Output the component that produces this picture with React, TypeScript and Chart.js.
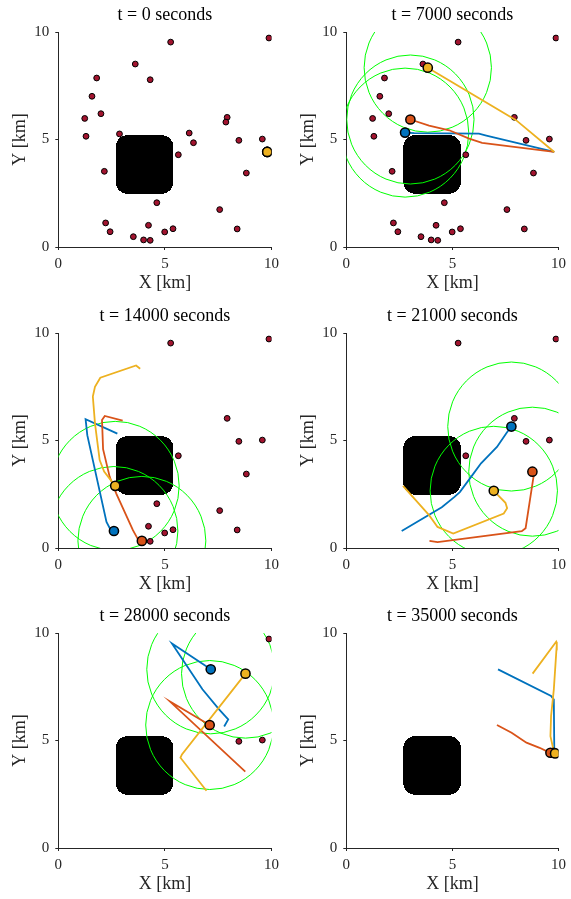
import React, { useEffect, useRef } from 'react';
import { Chart, registerables } from 'chart.js';
Chart.register(...registerables);

// ---------- data ----------
const PANEL_TIMES = [0, 7000, 14000, 21000, 28000, 35000];

const TARGET_X = [5.27, 9.88, 3.61, 4.31, 1.80, 1.58, 1.24, 2.00, 1.30, 2.87, 2.16, 6.14, 6.34, 5.63, 7.92, 7.86, 8.47, 9.57, 8.82, 4.62, 7.57, 8.39, 2.22, 2.43, 3.52, 4.23, 4.00, 4.31, 4.99, 5.38];
const TARGET_Y = [9.53, 9.72, 8.51, 7.78, 7.86, 7.01, 5.98, 6.20, 5.15, 5.26, 3.52, 5.30, 4.85, 4.29, 6.03, 5.81, 4.96, 5.02, 3.44, 2.06, 1.74, 0.84, 1.12, 0.71, 0.48, 1.01, 0.33, 0.31, 0.70, 0.85];

// indices of targets still unfound in each panel
const TARGETS_LEFT: number[][] = [
  [0, 1, 2, 3, 4, 5, 6, 7, 8, 9, 10, 11, 12, 13, 14, 15, 16, 17, 18, 19, 20, 21, 22, 23, 24, 25, 26, 27, 28, 29],
  [0, 1, 2, 4, 5, 6, 7, 8, 10, 13, 14, 16, 17, 18, 19, 20, 21, 22, 23, 24, 25, 26, 27, 28, 29],
  [0, 1, 13, 14, 16, 17, 18, 19, 20, 21, 25, 27, 28, 29],
  [0, 1, 13, 14, 16, 17],
  [1, 16, 17],
  [],
];

const BLUE_AGENT = [[9.8, 4.42], [2.77, 5.32], [2.61, 0.79], [7.78, 5.65], [7.15, 8.31], [9.78, 4.43]];
const ORANGE_AGENT = [[9.8, 4.42], [3.02, 5.93], [3.92, 0.33], [8.77, 3.55], [7.1, 5.72], [9.62, 4.43]];
const YELLOW_AGENT = [[9.8, 4.42], [3.84, 8.34], [2.67, 2.89], [6.95, 2.66], [8.78, 8.11], [9.84, 4.4]];

const BLUE_TRAIL: number[][][] = [
  [],
  [[9.8, 4.42], [6.6, 5.18], [6.25, 5.27], [3.2, 5.3], [2.77, 5.32]],
  [[2.77, 5.32], [1.28, 5.99], [1.36, 5.25], [2.26, 1.21], [2.45, 0.85], [2.61, 0.79]],
  [[2.61, 0.79], [4.5, 1.9], [5.1, 2.38], [5.35, 2.6], [5.95, 3.4], [6.35, 3.94], [7.1, 4.7], [7.55, 5.35], [7.78, 5.65]],
  [[7.78, 5.65], [7.97, 5.98], [7.54, 6.45], [6.76, 7.38], [5.33, 9.51], [7.15, 8.31]],
  [[7.15, 8.31], [9.65, 7.07], [9.78, 6.9], [9.8, 4.7], [9.78, 4.43]],
];
const ORANGE_TRAIL: number[][][] = [
  [],
  [[9.8, 4.42], [8.0, 4.65], [6.4, 4.84], [5.79, 5.04], [4.85, 5.43], [3.9, 5.65], [3.02, 5.93]],
  [[3.02, 5.93], [2.18, 6.14], [2.05, 5.95], [2.1, 4.6], [2.41, 3.31], [2.72, 2.53], [3.5, 0.83], [3.75, 0.38], [3.92, 0.33]],
  [[3.92, 0.33], [4.3, 0.27], [8.27, 0.78], [8.45, 0.92], [8.82, 3.3], [8.77, 3.55]],
  [[8.77, 3.55], [5.24, 6.81], [7.1, 5.72]],
  [[7.1, 5.72], [7.79, 5.36], [8.49, 4.9], [9.11, 4.66], [9.53, 4.46], [9.62, 4.43]],
];
const YELLOW_TRAIL: number[][][] = [
  [],
  [[9.8, 4.42], [8.0, 5.9], [3.84, 8.34]],
  [[3.84, 8.34], [3.65, 8.49], [1.97, 7.92], [1.72, 7.5], [1.62, 7.04], [1.72, 5.8], [1.94, 4.09], [2.15, 3.55], [2.67, 2.89]],
  [[2.67, 2.89], [3.9, 1.53], [4.3, 0.98], [5.04, 0.67], [7.42, 1.6], [7.58, 1.85], [7.5, 2.1], [7.1, 2.5], [6.95, 2.66]],
  [[6.95, 2.66], [5.73, 4.2], [5.8, 4.35], [8.78, 8.11]],
  [[8.78, 8.11], [9.89, 9.59], [9.92, 9.48], [9.78, 7.38], [9.65, 6.14], [9.62, 5.2], [9.73, 4.71], [9.84, 4.4]],
];

const SHOW_SENSING = [false, true, true, true, true, false];
const SENSE_RADIUS_KM = 3;

const OBSTACLE_X = [2.69, 5.4];
const OBSTACLE_Y = [2.48, 5.2];
const OBSTACLE_CORNER = 0.55;

const AXIS_TICKS = [0, 5, 10];

// ---------- styles ----------
const BLUE = '#0072BD';
const ORANGE = '#D95319';
const YELLOW = '#EDB120';
const TARGET = '#A2142F';
const SENSE = '#00FF00';
const AXIS = '#262626';
const FONT = "'Liberation Serif', 'Times New Roman', serif";

const Y_AXIS_W = 58.3;
const PLOT_W = 214.4;
const PLOT_BOTTOM = 247;
const CANVAS_H = 298;
const COL_LEFT = [0, 288];
const COL_W = [284, 283];
const ROW_TOP = [0, 301, 601];

const toPts = (arr: number[][]) => arr.map(([x, y]) => ({ x, y }));

function Panel({ idx }: { idx: number }) {
  const ref = useRef<HTMLCanvasElement | null>(null);
  const col = idx % 2;
  const row = Math.floor(idx / 2);
  const W = COL_W[col];
  const H = CANVAS_H;

  useEffect(() => {
    if (!ref.current) return;
    const envPlugin = {
      id: 'env' + idx,
      beforeDatasetsDraw(chart: any) {
        const { ctx, chartArea } = chart;
        const xs = chart.scales.x;
        const ys = chart.scales.y;
        ctx.save();
        ctx.beginPath();
        ctx.rect(chartArea.left, chartArea.top, chartArea.right - chartArea.left, chartArea.bottom - chartArea.top);
        ctx.clip();
        // obstacle, rasterised row by row
        ctx.fillStyle = '#000';
        const pTop = Math.round(ys.getPixelForValue(OBSTACLE_Y[1]));
        const pBot = Math.round(ys.getPixelForValue(OBSTACLE_Y[0]));
        const r = OBSTACLE_CORNER;
        for (let py = pTop; py < pBot; py++) {
          const yv = ys.getValueForPixel(py + 0.5);
          const d = Math.min(OBSTACLE_Y[1] - yv, yv - OBSTACLE_Y[0]);
          let inset = 0;
          if (d < r) inset = r - Math.sqrt(Math.max(0, r * r - (r - d) * (r - d)));
          const xl = Math.round(xs.getPixelForValue(OBSTACLE_X[0] + inset));
          const xr = Math.round(xs.getPixelForValue(OBSTACLE_X[1] - inset));
          ctx.fillRect(xl, py, xr - xl, 1);
        }
        // sensing circles
        if (SHOW_SENSING[idx]) {
          ctx.strokeStyle = SENSE;
          ctx.lineWidth = 1;
          [BLUE_AGENT, ORANGE_AGENT, YELLOW_AGENT].forEach((a) => {
            const [ax, ay] = a[idx];
            const cx = xs.getPixelForValue(ax);
            const cy = ys.getPixelForValue(ay);
            const rx = Math.abs(xs.getPixelForValue(ax + SENSE_RADIUS_KM) - cx);
            const ry = Math.abs(ys.getPixelForValue(ay + SENSE_RADIUS_KM) - cy);
            ctx.beginPath();
            ctx.ellipse(cx, cy, rx, ry, 0, 0, Math.PI * 2);
            ctx.stroke();
          });
        }
        ctx.restore();
      },
    };

    const trail = (data: number[][], color: string, order: number) => ({
      data: toPts(data),
      showLine: true,
      borderColor: color,
      borderWidth: 1.8,
      pointRadius: 0,
      tension: 0,
      fill: false,
      order,
    });
    const agent = (pos: number[], color: string, order: number) => ({
      data: [{ x: pos[0], y: pos[1] }],
      pointRadius: 4.6,
      pointBorderWidth: 1.5,
      pointBackgroundColor: color,
      pointBorderColor: '#000',
      backgroundColor: color,
      borderColor: '#000',
      showLine: false,
      order,
    });

    const datasets: any[] = [
      agent(YELLOW_AGENT[idx], YELLOW, 1),
      agent(ORANGE_AGENT[idx], ORANGE, 2),
      agent(BLUE_AGENT[idx], BLUE, 3),
      trail(YELLOW_TRAIL[idx], YELLOW, 11),
      trail(ORANGE_TRAIL[idx], ORANGE, 12),
      trail(BLUE_TRAIL[idx], BLUE, 13),
      {
        data: TARGETS_LEFT[idx].map((i) => ({ x: TARGET_X[i], y: TARGET_Y[i] })),
        pointRadius: 2.9,
        pointBorderWidth: 1,
        pointBackgroundColor: TARGET,
        pointBorderColor: '#000',
        showLine: false,
        order: 20,
      },
    ];

    const axisCommon = (title: string) => ({
      type: 'linear' as const,
      min: 0,
      max: 10,
      afterBuildTicks(scale: any) {
        scale.ticks = AXIS_TICKS.map((v) => ({ value: v }));
      },
      ticks: {
        color: AXIS,
        font: { family: FONT, size: 15 },
        maxRotation: 0,
        autoSkip: false,
        callback: (v: any) => String(v),
      },
      grid: { display: true, drawOnChartArea: false, drawTicks: true, tickLength: 3, color: AXIS },
      border: { display: true, color: AXIS, width: 1 },
      title: { display: true, text: title, color: AXIS, font: { family: FONT, size: 18 } },
    });

    const xAxis: any = axisCommon('X [km]');
    xAxis.ticks.padding = 5;
    xAxis.title.padding = { top: 0, bottom: 4.2 };
    xAxis.afterFit = (s: any) => { s.height = H - PLOT_BOTTOM; };
    const yAxis: any = axisCommon('Y [km]');
    yAxis.ticks.padding = 6;
    yAxis.title.padding = { top: 9, bottom: 0 };
    yAxis.afterFit = (s: any) => { s.width = Y_AXIS_W; };

    const chart = new Chart(ref.current, {
      type: 'scatter',
      data: { datasets },
      options: {
        responsive: false,
        animation: false,
        events: [],
        devicePixelRatio: 1,
        layout: { padding: { left: 0, top: 0, bottom: 0, right: W - Y_AXIS_W - PLOT_W } },
        scales: { x: xAxis, y: yAxis },
        plugins: {
          legend: { display: false },
          tooltip: { enabled: false },
          title: {
            display: true,
            text: `t = ${PANEL_TIMES[idx]} seconds`,
            fullSize: false,
            color: '#000',
            font: { family: FONT, size: 18, weight: 'normal' },
            padding: { top: 4.2, bottom: 6.2 },
          },
        },
      } as any,
      plugins: [envPlugin],
    });
    return () => chart.destroy();
  }, [idx]);

  return (
    <canvas
      ref={ref}
      width={W}
      height={H}
      style={{ position: 'absolute', left: COL_LEFT[col], top: ROW_TOP[row], width: W, height: H }}
    />
  );
}

export default function App() {
  return (
    <div style={{ position: 'absolute', left: 0, top: 0, width: 571, height: 899, overflow: 'hidden', background: '#fff' }}>
      {PANEL_TIMES.map((_, i) => (
        <Panel key={i} idx={i} />
      ))}
    </div>
  );
}
